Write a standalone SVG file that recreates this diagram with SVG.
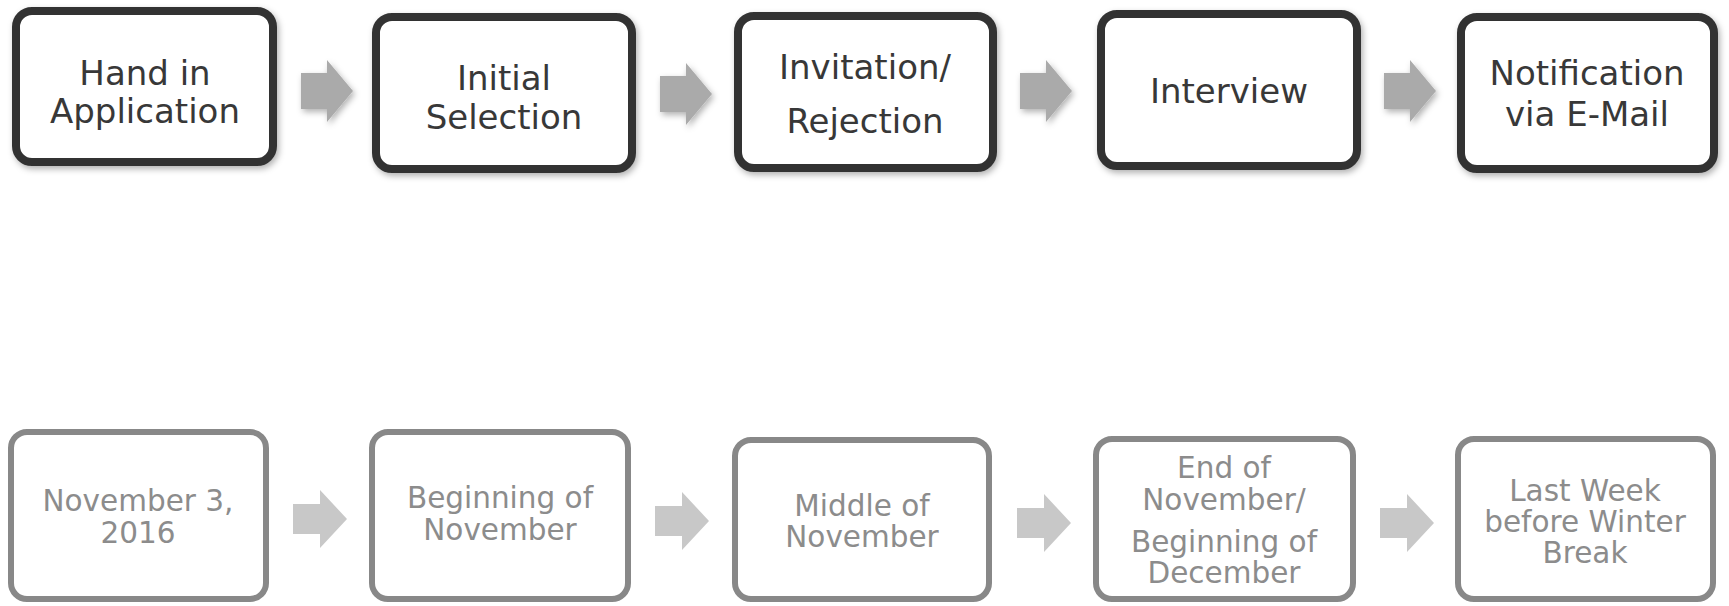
<svg xmlns="http://www.w3.org/2000/svg" width="1729" height="606" viewBox="0 0 1729 606">
<defs>
<filter id="sh" x="-20%" y="-20%" width="140%" height="140%">
<feDropShadow dx="2" dy="3" stdDeviation="3" flood-color="#000" flood-opacity="0.3"/>
</filter>
<path id="arrowT" d="M0,-18 H26 V-31 L52,0 L26,31 V18 H0 Z"/>
<path id="arrowB" d="M0,-15 H27 V-29 L54,0 L27,29 V15 H0 Z"/>
</defs>
<style>
.top rect{fill:#fff;stroke:#333;stroke-width:8}
.top text{font-family:"DejaVu Sans",Verdana,sans-serif;font-size:34px;fill:#383838;text-anchor:middle}
.bot rect{fill:#fff;stroke:#888;stroke-width:6}
.bot text{font-family:"DejaVu Sans",Verdana,sans-serif;font-size:29.5px;fill:#8c8c8c;text-anchor:middle}
.at{fill:#aaa}
.ab{fill:#c8c8c8}
</style>
<rect width="1729" height="606" fill="#fff"/>
<g id="connectors">
<use href="#arrowT" class="at" filter="url(#sh)" transform="translate(301,91)"/>
<use href="#arrowT" class="at" filter="url(#sh)" transform="translate(660,94)"/>
<use href="#arrowT" class="at" filter="url(#sh)" transform="translate(1020,91)"/>
<use href="#arrowT" class="at" filter="url(#sh)" transform="translate(1384,91)"/>
<use href="#arrowB" class="ab" transform="translate(293,519)"/>
<use href="#arrowB" class="ab" transform="translate(655,521)"/>
<use href="#arrowB" class="ab" transform="translate(1017,523)"/>
<use href="#arrowB" class="ab" transform="translate(1380,523)"/>
</g>
<g id="n1" class="top"><rect x="16" y="11" width="257" height="151" rx="16" filter="url(#sh)"/><text x="145" y="85">Hand in</text><text x="145" y="123">Application</text></g>
<g id="n2" class="top"><rect x="376" y="17" width="256" height="152" rx="16" filter="url(#sh)"/><text x="504" y="90">Initial</text><text x="504" y="129">Selection</text></g>
<g id="n3" class="top"><rect x="738" y="16" width="255" height="152" rx="16" filter="url(#sh)"/><text x="865" y="79">Invitation/</text><text x="865" y="133">Rejection</text></g>
<g id="n4" class="top"><rect x="1101" y="14" width="256" height="152" rx="16" filter="url(#sh)"/><text x="1229" y="103">Interview</text></g>
<g id="n5" class="top"><rect x="1461" y="17" width="253" height="152" rx="16" filter="url(#sh)"/><text x="1587" y="85">Notification</text><text x="1587" y="126">via E-Mail</text></g>
<g id="m1" class="bot"><rect x="11" y="432" width="255" height="167" rx="16"/><text x="138" y="511">November 3,</text><text x="138" y="543">2016</text></g>
<g id="m2" class="bot"><rect x="372" y="432" width="256" height="167" rx="16"/><text x="500" y="508">Beginning of</text><text x="500" y="540">November</text></g>
<g id="m3" class="bot"><rect x="735" y="440" width="254" height="159" rx="16"/><text x="862" y="516">Middle of</text><text x="862" y="547">November</text></g>
<g id="m4" class="bot"><rect x="1096" y="439" width="257" height="160" rx="16"/><text x="1224" y="478">End of</text><text x="1224" y="510">November/</text><text x="1224" y="552">Beginning of</text><text x="1224" y="583">December</text></g>
<g id="m5" class="bot"><rect x="1458" y="439" width="255" height="160" rx="16"/><text x="1585" y="501">Last Week</text><text x="1585" y="532">before Winter</text><text x="1585" y="563">Break</text></g>
</svg>
